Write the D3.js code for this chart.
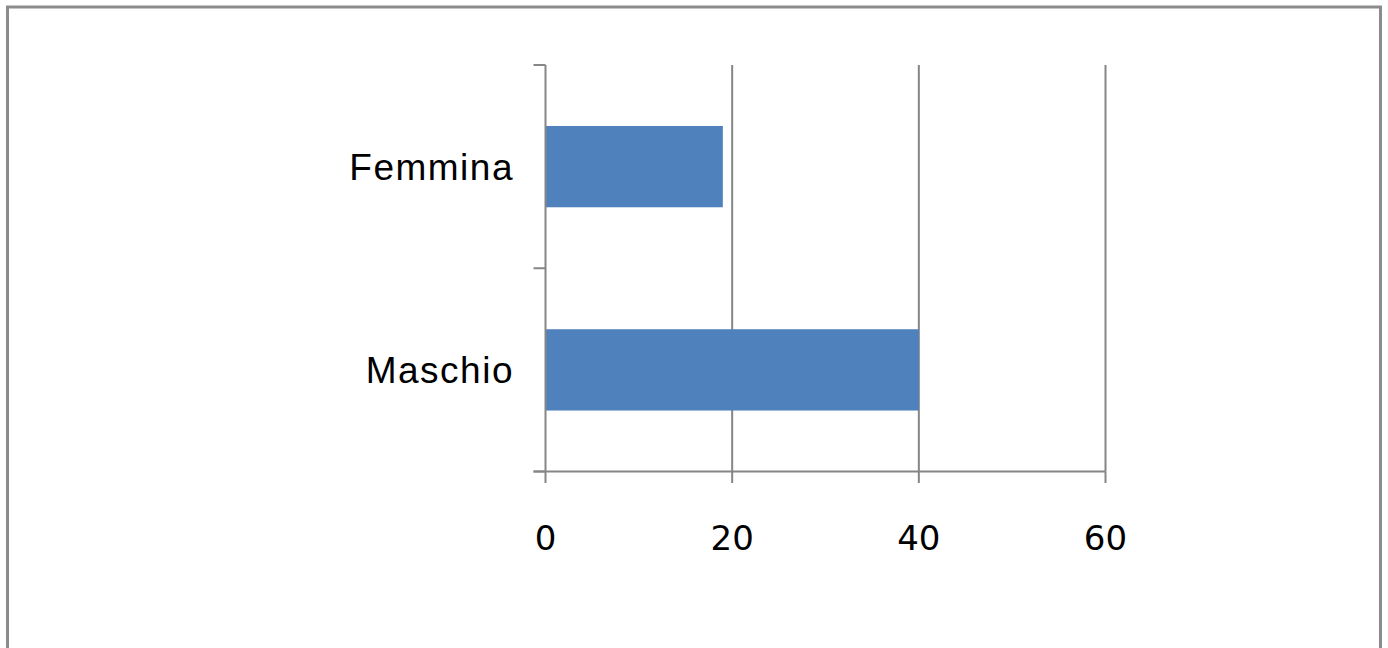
<!DOCTYPE html>
<html>
<head>
<meta charset="utf-8">
<script src="https://cdn.jsdelivr.net/npm/d3@7"></script>
<style>
  body { margin: 0; background: #fff; }
  text { font-family: "Liberation Sans", Arial, sans-serif; fill: #000; }
  .tick-x { font-family: "DejaVu Sans", sans-serif; }
</style>
</head>
<body>
<div id="grafico"></div>
<script>
// dati
const categorie = ["Maschio", "Femmina"];
const valori = [40, 19];
const tick_x = [0, 20, 40, 60];

function creaGrafico(){
    const W = 1388, H = 648;
    const svg = d3.select("#grafico").append("svg")
        .attr("width", W)
        .attr("height", H);

    // cornice
    svg.append("rect")
        .attr("x", 7.5).attr("y", 7)
        .attr("width", 1373).attr("height", 660)
        .attr("fill", "none")
        .attr("stroke", "#8c8c8c")
        .attr("stroke-width", 3);

    const x = d3.scaleLinear().domain([0, 60]).range([545.5, 1105.5]);
    const y = d3.scaleBand().domain(categorie.slice().reverse())
        .range([65, 471.5])
        .paddingInner(0.6).paddingOuter(0.3);
    // bordi delle categorie (per i tick dell'asse)
    const yb = d3.scaleLinear().domain([0, categorie.length]).range([471.5, 65]);

    const grigio = "#868686";

    // griglia verticale
    svg.append("g").selectAll("line")
        .data(tick_x.slice(1))
        .join("line")
        .attr("x1", d => x(d)).attr("x2", d => x(d))
        .attr("y1", 65).attr("y2", 471.5)
        .attr("stroke", grigio).attr("stroke-width", 2);

    // barre
    svg.append("g").selectAll("rect")
        .data(categorie)
        .join("rect")
        .attr("x", x(0))
        .attr("y", d => y(d))
        .attr("width", (d, i) => x(valori[i]) - x(0))
        .attr("height", y.bandwidth())
        .attr("fill", "#4f81bd");

    // asse y
    svg.append("line")
        .attr("x1", x(0)).attr("x2", x(0))
        .attr("y1", 65).attr("y2", 471.5)
        .attr("stroke", grigio).attr("stroke-width", 2);
    svg.append("g").selectAll("line")
        .data(d3.range(categorie.length + 1))
        .join("line")
        .attr("x1", x(0) - 12).attr("x2", x(0))
        .attr("y1", d => yb(d)).attr("y2", d => yb(d))
        .attr("stroke", grigio).attr("stroke-width", 2);

    // asse x
    svg.append("line")
        .attr("x1", x(0) - 12).attr("x2", x(60))
        .attr("y1", 471.5).attr("y2", 471.5)
        .attr("stroke", grigio).attr("stroke-width", 2);
    svg.append("g").selectAll("line")
        .data(tick_x)
        .join("line")
        .attr("x1", d => x(d)).attr("x2", d => x(d))
        .attr("y1", 471.5).attr("y2", 483)
        .attr("stroke", grigio).attr("stroke-width", 2);

    // etichette
    svg.append("g").selectAll("text")
        .data(tick_x)
        .join("text")
        .attr("class", "tick-x")
        .attr("x", d => x(d))
        .attr("y", 549.5)
        .attr("text-anchor", "middle")
        .attr("font-size", 34)
        .text(d => d);

    svg.append("g").selectAll("text")
        .data(categorie)
        .join("text")
        .attr("x", 514)
        .attr("y", d => y(d) + y.bandwidth() / 2 + 13.5)
        .attr("text-anchor", "end")
        .attr("font-size", 37)
        .attr("letter-spacing", 1.5)
        .text(d => d);
}
creaGrafico();
</script>
</body>
</html>
